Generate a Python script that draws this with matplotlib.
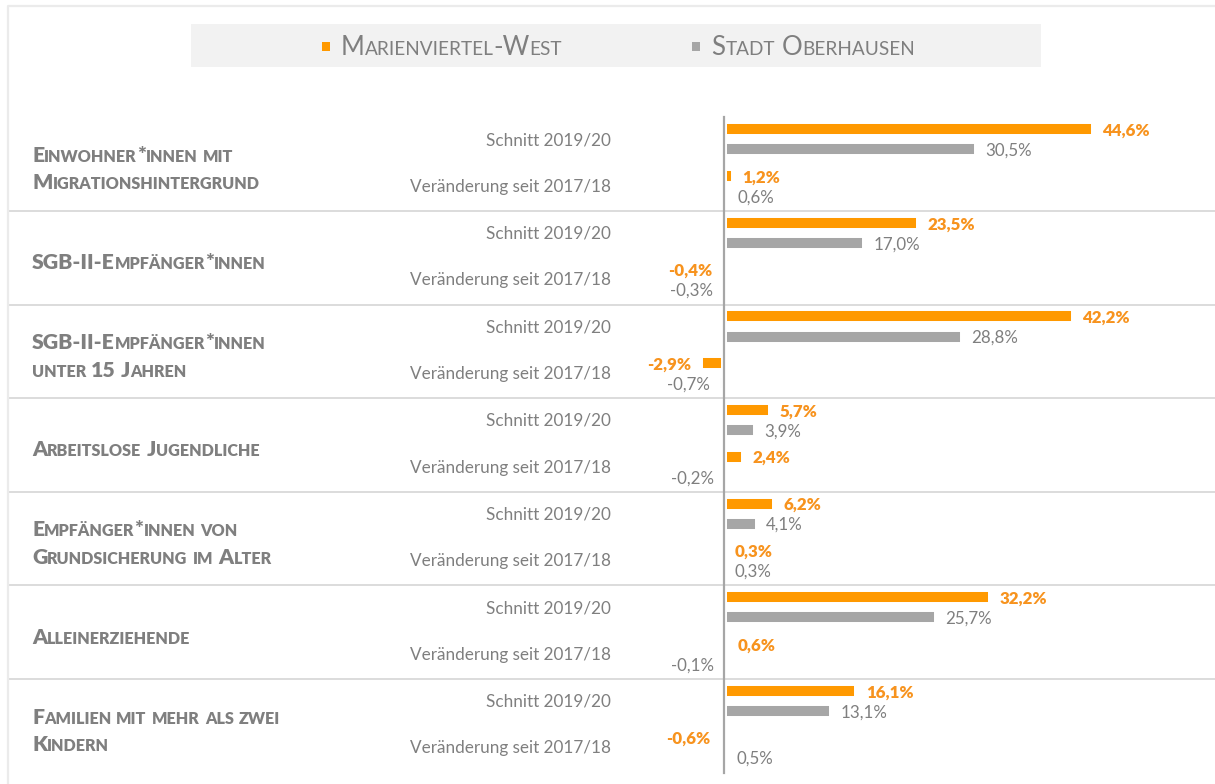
import matplotlib
matplotlib.use('Agg')
import matplotlib.pyplot as plt
from matplotlib.patches import Rectangle
from matplotlib.transforms import IdentityTransform
from matplotlib.font_manager import FontProperties, findfont
from matplotlib.ft2font import FT2Font

plt.rcParams['font.family'] = ['Lato', 'DejaVu Sans']

W, H = 1215, 784

# data
categories = [
    'Einwohner*innen mit\nMigrationshintergrund',
    'SGB-II-Empfänger*innen',
    'SGB-II-Empfänger*innen\nunter 15 Jahren',
    'Arbeitslose Jugendliche',
    'Empfänger*innen von\nGrundsicherung im Alter',
    'Alleinerziehende',
    'Familien mit mehr als zwei\nKindern',
]
row_labels = ['Schnitt 2019/20', 'Veränderung seit 2017/18']
series = ['Marienviertel-West', 'Stadt Oberhausen']

mw_schnitt = [44.6, 23.5, 42.2, 5.7, 6.2, 32.2, 16.1]
ob_schnitt = [30.5, 17.0, 28.8, 3.9, 4.1, 25.7, 13.1]
mw_change = [1.2, -0.4, -2.9, 2.4, 0.3, 0.6, -0.6]
ob_change = [0.6, -0.3, -0.7, -0.2, 0.3, -0.1, 0.5]

# colors
orange = '#ff9900'
orange_text = '#f7931e'
grey_bar = '#a6a6a6'
grey_text = '#7f7f7f'
line_col = '#dcdcdc'

# layout (pixels)
zero_px = 723.7
px_per_pct = 8.3
top_px = 117.4
sec_px = 93.6

fig = plt.figure(figsize=(W / 100, H / 100), dpi=100)
fig.patch.set_facecolor('white')
ax = fig.add_axes([0, 0, 1, 1])
ax.set_xlim(-zero_px / px_per_pct, (W - zero_px) / px_per_pct)
ax.set_ylim((H - top_px) / sec_px, -top_px / sec_px)
ax.axis('off')


def fmt(v):
    return f'{v:.1f}'.replace('.', ',') + '%'


_fonts = {}


def advance(s, size, weight):
    # pen advance of a string in pixels, from the glyph metrics
    path = findfont(FontProperties(family='Lato', weight=weight))
    if path not in _fonts:
        _fonts[path] = FT2Font(path)
    f = _fonts[path]
    f.set_size(size, 100)
    return sum(f.load_char(ord(c)).linearHoriAdvance / 65536 for c in s)


def small_caps(x, y, text, size, ratio=0.76, word_gap=0.22,
               fontweight='normal', **kw):
    # fake small caps: capitals at full size, lower case as smaller capitals
    cx = x
    em = size * 100 / 72
    for n, word in enumerate(text.split(' ')):
        if n:
            cx += em * word_gap
        runs = []
        for ch in word:
            big = not ch.islower()
            if runs and runs[-1][1] == big:
                runs[-1][0] += ch
            else:
                runs.append([ch, big])
        for chunk, big in runs:
            s = size if big else size * ratio
            fig.text(cx, H - y, chunk.upper(), fontsize=s, fontweight=fontweight,
                     transform=IdentityTransform(), ha='left', va='baseline', **kw)
            cx += advance(chunk.upper(), s, fontweight)
    return cx


# bar offsets inside one section
off = {'mw_s': 0.127, 'ob_s': 0.341, 'mw_c': 0.626, 'ob_c': 0.840}
bar_h = 16 / sec_px

rows = [(mw_schnitt, 'mw_s', orange, True), (ob_schnitt, 'ob_s', grey_bar, False),
        (mw_change, 'mw_c', orange, True), (ob_change, 'ob_c', grey_bar, False)]

for vals, key, col, bold in rows:
    ys = [i + off[key] for i in range(len(vals))]
    ax.barh(ys, vals, height=bar_h, color=col, edgecolor='white',
            linewidth=4.3, zorder=2)
    for y, v in zip(ys, vals):
        dx = 6.1 if v >= 0 else -6.1
        ax.annotate(fmt(v), (v, y), xytext=(dx, -4.6), textcoords='offset points',
                    ha='left' if v >= 0 else 'right', va='baseline',
                    fontsize=12.2,
                    fontweight='heavy' if bold else 'normal',
                    color=orange_text if bold else grey_text, zorder=5)

# zero line and section separators
ax.plot([0, 0], [0, len(categories)], color='#a6a6a6', lw=1.6, zorder=4)
for i in range(1, len(categories)):
    ax.axhline(i, xmin=8 / W, xmax=1, color=line_col, lw=1.4, zorder=3)

# row labels
lab_x = (611 - zero_px) / px_per_pct
for i in range(len(categories)):
    ax.text(lab_x, i + 0.295, row_labels[0], ha='right', va='baseline',
            fontsize=12.3, color=grey_text)
    ax.text(lab_x, i + 0.794, row_labels[1], ha='right', va='baseline',
            fontsize=12.3, color=grey_text)

# category labels
for i, cat in enumerate(categories):
    lines = cat.split('\n')
    n = len(lines)
    for k, line in enumerate(lines):
        y = top_px + sec_px * (i + 0.5) + 11.5 + (k - (n - 1) / 2) * 27.3
        small_caps(32, y, line, 15.3, ratio=0.76, word_gap=0.24,
                   fontweight='heavy', color=grey_text)

# outer frame
fig.add_artist(plt.Line2D([8, 8, W], [0, H - 6, H - 6], transform=IdentityTransform(),
                          color='#ebebeb', lw=1.6))

# legend box
fig.add_artist(Rectangle((191, H - 67), 850, 43, transform=IdentityTransform(),
                         facecolor='#f2f2f2', edgecolor='none'))
for (mx, tx), name, col in zip([(322, 341), (692, 711.6)], series, [orange, grey_bar]):
    fig.add_artist(Rectangle((mx, H - 51), 8, 9.5, transform=IdentityTransform(),
                             facecolor=col, edgecolor='none'))
    small_caps(tx, 55.3, name, 18.5, ratio=0.74, word_gap=0.24,
               fontweight='normal', color=grey_text)

fig.savefig('out.png', dpi=100)
